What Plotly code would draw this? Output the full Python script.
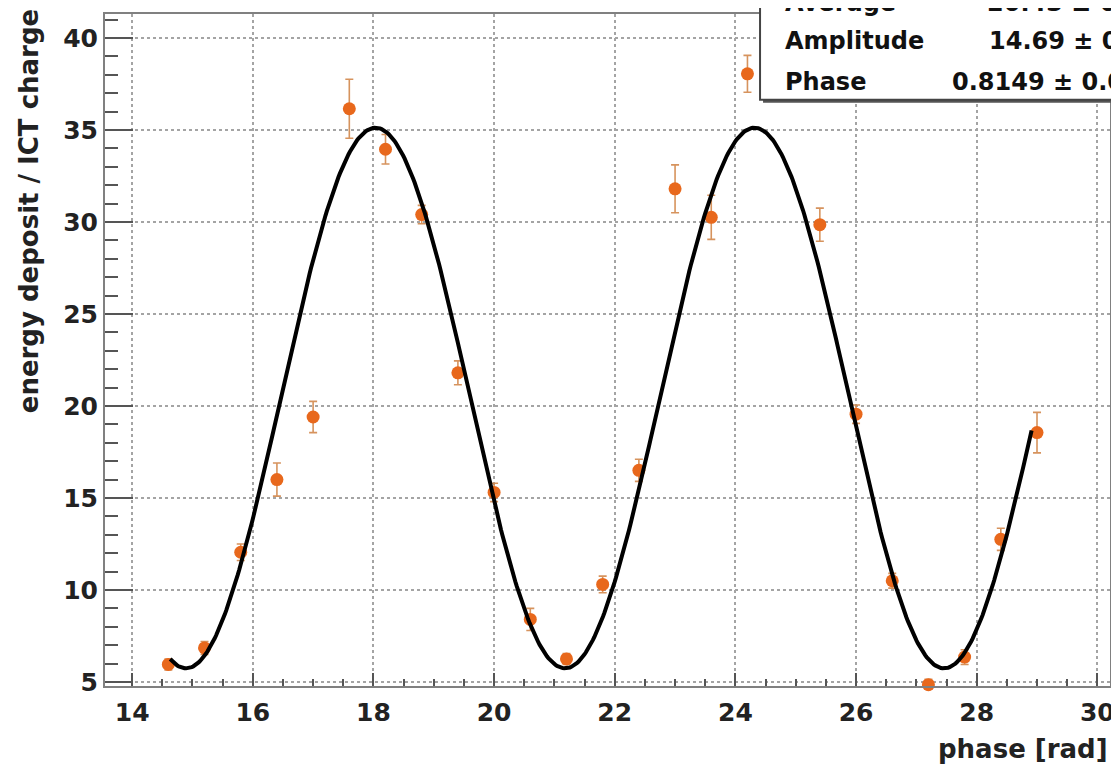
import numpy as np
import plotly.graph_objects as go

# ---- data ----
phase = [14.6, 15.2, 15.8, 16.4, 17.0, 17.6, 18.2, 18.8, 19.4, 20.0, 20.6, 21.2,
         21.8, 22.4, 23.0, 23.6, 24.2, 25.4, 26.0, 26.6, 27.2, 27.8, 28.4, 29.0]
deposit = [5.95, 6.85, 12.05, 16.0, 19.4, 36.15, 33.95, 30.4, 21.8, 15.3, 8.4, 6.25,
           10.3, 16.5, 31.8, 30.25, 38.05, 29.85, 19.55, 10.5, 4.85, 6.35, 12.75, 18.55]
deposit_err = [0.3, 0.35, 0.45, 0.9, 0.85, 1.6, 0.8, 0.5, 0.65, 0.5, 0.6, 0.3,
               0.45, 0.6, 1.3, 1.2, 1.0, 0.9, 0.5, 0.4, 0.3, 0.4, 0.6, 1.1]

# fit parameters shown in the stats box: Average + Amplitude*cos(phase + Phase)
fit_average = 20.43
fit_amplitude = 14.69
fit_phase = 0.8149
fit_range = [14.63, 28.91]

x_ticks = [14, 16, 18, 20, 22, 24, 26, 28, 30]
y_ticks = [5, 10, 15, 20, 25, 30, 35, 40]

stats_names = ["Average", "Amplitude", "Phase"]
stats_values = ["20.43 \u00b1 0.", "14.69 \u00b1 0.", "0.8149 \u00b1 0.0"]

# ---- figure ----
OFF = 8                      # page body margin of the html page
W, H = 1119 - OFF, 764 - OFF
ml, mt = 105 - OFF, 12 - OFF  # plot area in screen pixels: x 105..1113, y 12..686
mr = 1119 - 1113
mb = 764 - 686
pw, ph = W - ml - mr, H - mt - mb

def px(x):   # screen x pixel -> paper
    return (x - OFF - ml) / pw

def py(y):   # screen y pixel -> paper
    return (H - mb - (y - OFF)) / ph

FONT = "DejaVu Sans"
ORANGE = "#E8681C"

fx = np.linspace(fit_range[0], fit_range[1], 600)
fy = fit_average + fit_amplitude * np.cos(fx + fit_phase)

fig = go.Figure()
fig.add_trace(go.Scatter(
    x=phase, y=deposit, mode="markers",
    marker=dict(color=ORANGE, size=13, line=dict(width=0)),
    error_y=dict(type="data", array=deposit_err, color="rgba(210,135,75,0.9)",
                 thickness=1.6, width=4),
    showlegend=False, cliponaxis=False))
fig.add_trace(go.Scatter(
    x=fx, y=fy, mode="lines", line=dict(color="black", width=4),
    showlegend=False))

axis_common = dict(
    showline=True, linecolor="#808080", linewidth=2, mirror=True,
    showgrid=True, gridcolor="#a4a4a4", gridwidth=1.5, griddash="dot",
    zeroline=False, ticks="inside", tickcolor="#555",
    tickfont=dict(family=FONT, size=25, color="#222", weight=700),
)

fig.update_xaxes(range=[13.55, 30.21], tickvals=x_ticks, ticklen=13, tickwidth=2,
                 minor=dict(ticks="inside", ticklen=7, dtick=0.5, tickcolor="#555",
                            showgrid=False),
                 ticklabelstandoff=3, **axis_common)
fig.update_yaxes(range=[4.78, 41.3], tickvals=y_ticks, ticklen=28, tickwidth=2,
                 minor=dict(ticks="inside", ticklen=13, dtick=1, tickcolor="#555",
                            showgrid=False),
                 ticklabelstandoff=0, **axis_common)

shapes = [
    # stats box shadow and box (cut by the figure edge, as in the reference)
    dict(type="rect", xref="paper", yref="paper", x0=px(765), x1=px(1150),
         y0=py(101), y1=py(-30), fillcolor="#555", line=dict(width=0), layer="above"),
    dict(type="rect", xref="paper", yref="paper", x0=px(762), x1=px(1150),
         y0=py(98), y1=py(-30), fillcolor="white",
         line=dict(color="#444", width=2), layer="above"),
]

annotations = [
    dict(text="phase [rad]", xref="paper", yref="paper", x=px(1113), y=py(749),
         xanchor="right", yanchor="middle", showarrow=False,
         font=dict(family=FONT, size=26, color="#222", weight=700)),
    dict(text="energy deposit / ICT charge", xref="paper", yref="paper",
         x=px(29), y=py(5), xanchor="center", yanchor="top", textangle=-90,
         showarrow=False, font=dict(family=FONT, size=26, color="#222", weight=700)),
]
row_y = [1, 39, 80]
value_x = [988, 990, 953]
for name, val, ry, vx in zip(stats_names, stats_values, row_y, value_x):
    annotations.append(dict(text=name, xref="paper", yref="paper", x=px(785), y=py(ry),
                            xanchor="left", yanchor="middle", showarrow=False,
                            font=dict(family=FONT, size=24, color="#111", weight=700)))
    annotations.append(dict(text=val, xref="paper", yref="paper", x=px(vx), y=py(ry),
                            xanchor="left", yanchor="middle", showarrow=False,
                            font=dict(family=FONT, size=24, color="#111", weight=700)))

fig.update_layout(
    width=W, height=H,
    margin=dict(l=ml, r=mr, t=mt, b=mb, pad=0),
    paper_bgcolor="white", plot_bgcolor="white",
    shapes=shapes, annotations=annotations,
    font=dict(family=FONT),
)

fig.write_html("out.html")
